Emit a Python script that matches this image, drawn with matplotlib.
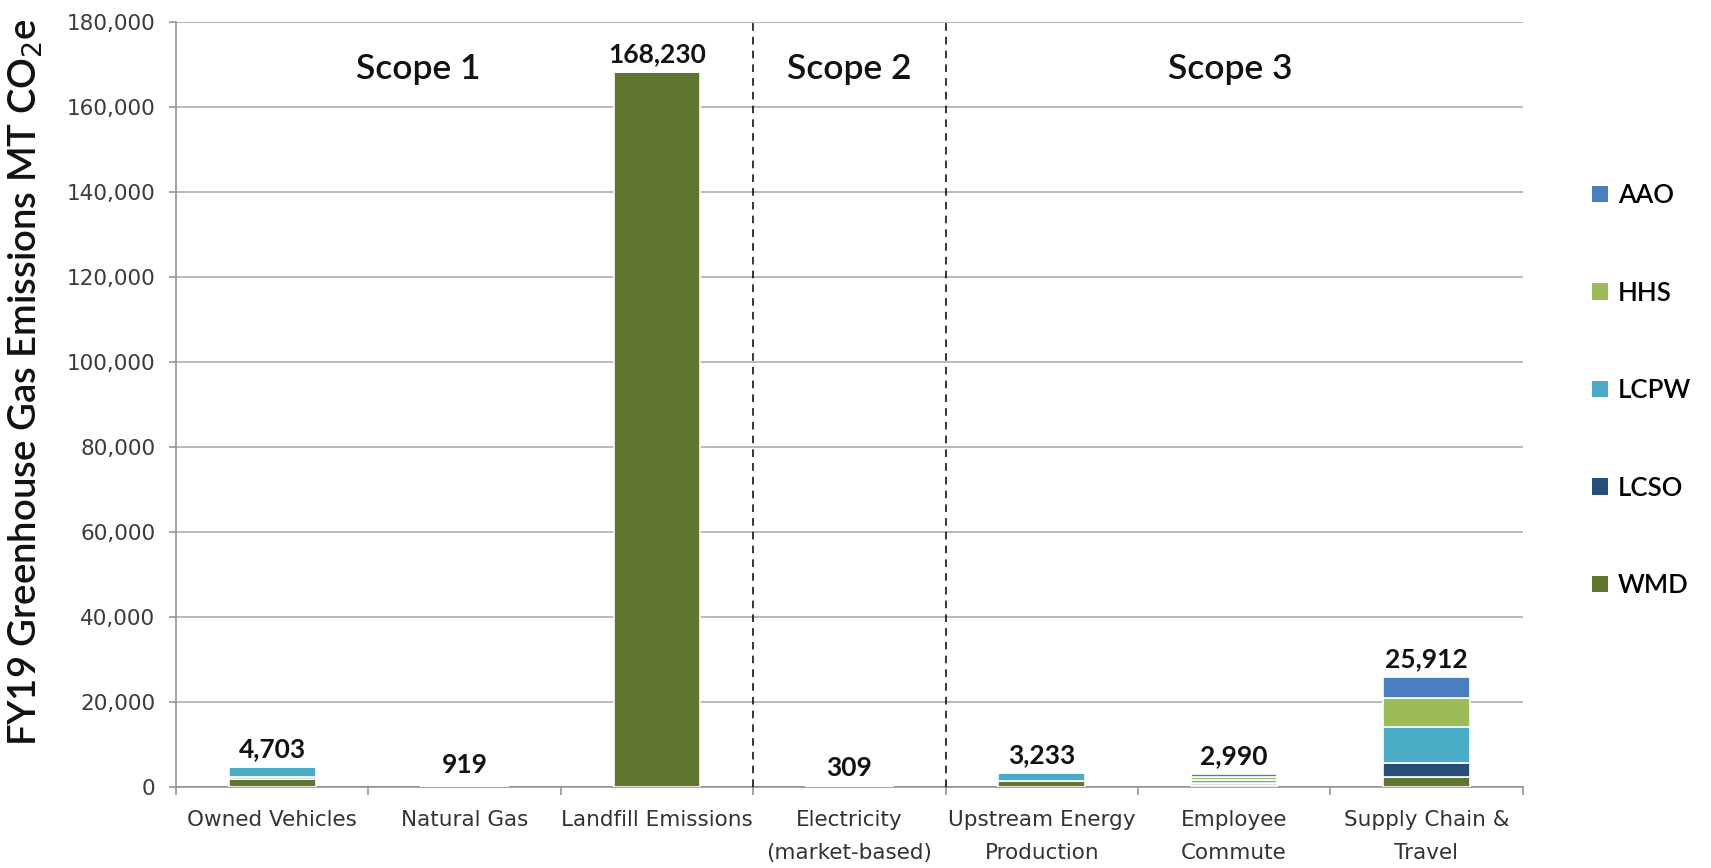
import matplotlib
matplotlib.use("Agg")
import matplotlib.pyplot as plt
import numpy as np
from matplotlib.patches import Patch

categories = ["Owned Vehicles", "Natural Gas", "Landfill Emissions",
              "Electricity\n(market-based)", "Upstream Energy\nProduction",
              "Employee\nCommute", "Supply Chain &\nTravel"]
series_names = ["WMD", "LCSO", "LCPW", "HHS", "AAO"]
wmd  = [1900, 200, 168230, 60, 1300, 500, 2200]
lcso = [500, 150, 0, 60, 50, 500, 3300]
lcpw = [2200, 300, 0, 80, 1800, 500, 8600]
hhs  = [50, 150, 0, 60, 50, 800, 6800]
aao  = [53, 119, 0, 49, 33, 690, 5012]
series_values = [wmd, lcso, lcpw, hhs, aao]
colors = ["#5f7530", "#264e78", "#4bacc6", "#9bbb59", "#4a7ebf"]
scopes = ["Scope 1", "Scope 2", "Scope 3"]
scope_x = [0.76, 3.0, 4.98]
yticks = list(range(0, 180001, 20000))

fig = plt.figure(figsize=(17.11, 8.68), dpi=100)
ax = fig.add_axes([0.1029, 0.0935, 0.787, 0.8814])

x = np.arange(len(categories))
bottom = np.zeros(len(categories))
for name, vals, c in zip(series_names, series_values, colors):
    v = np.array(vals, dtype=float)
    ax.bar(x, v, 0.45, bottom=bottom, color=c, edgecolor="white",
           linewidth=1.2, zorder=3, label=name)
    bottom += v

totals = bottom
for xi, t in zip(x, totals):
    ax.annotate(f"{int(round(t)):,}", (xi, t), xytext=(0, 4),
                textcoords="offset points", ha="center", va="bottom",
                fontsize=19, fontweight="bold", family="Lato", color="#111111")

ax.set_xlim(-0.5, len(categories) - 0.5)
ax.set_ylim(0, 180000)
ax.set_yticks(yticks)
ax.set_yticklabels([f"{v:,}" for v in yticks], fontsize=15.5, color="#3a3a3a")
ax.yaxis.grid(True, color="#a6a6a6", linewidth=1.1, zorder=0)
ax.set_axisbelow(True)

ax.set_xticks(x)
ax.set_xticklabels(categories, fontsize=15.5, color="#333333", linespacing=1.8)
ax.set_xticks(np.arange(-0.5, len(categories), 1.0), minor=True)
ax.tick_params(axis="x", which="major", length=0, pad=17)
ax.tick_params(axis="x", which="minor", length=6, color="#8c8c8c", width=1.1)
ax.tick_params(axis="y", length=5, color="#8c8c8c", width=1.1, pad=10)

for s in ["top", "right"]:
    ax.spines[s].set_visible(False)
for s in ["left", "bottom"]:
    ax.spines[s].set_color("#8c8c8c")
    ax.spines[s].set_linewidth(1.1)

for bx in [2.5, 3.5]:
    ax.axvline(bx, color="black", linestyle=(0, (5, 4)), linewidth=1.1, zorder=4)

for s, sx in zip(scopes, scope_x):
    ax.text(sx, 169000, s, ha="center", va="center", fontsize=25.5,
            family="Lato", fontweight="semibold", color="#111111")

ax.set_ylabel(r"FY19 Greenhouse Gas Emissions MT CO$_2$e", fontsize=27.5,
              family="Lato", fontweight="semibold", color="#111111")
ax.yaxis.set_label_coords(-0.097, 0.529)

handles = [Patch(facecolor=c, edgecolor="none", label=n)
           for n, c in zip(series_names, colors)][::-1]
fig.legend(handles=handles, loc="center left", bbox_to_anchor=(0.917, 0.55),
           frameon=False, prop={"family": "Lato", "size": 18.5, "weight": "semibold"},
           handlelength=0.6, handleheight=0.6, handletextpad=0.4,
           labelspacing=2.82)

fig.savefig("out.png", dpi=100)
